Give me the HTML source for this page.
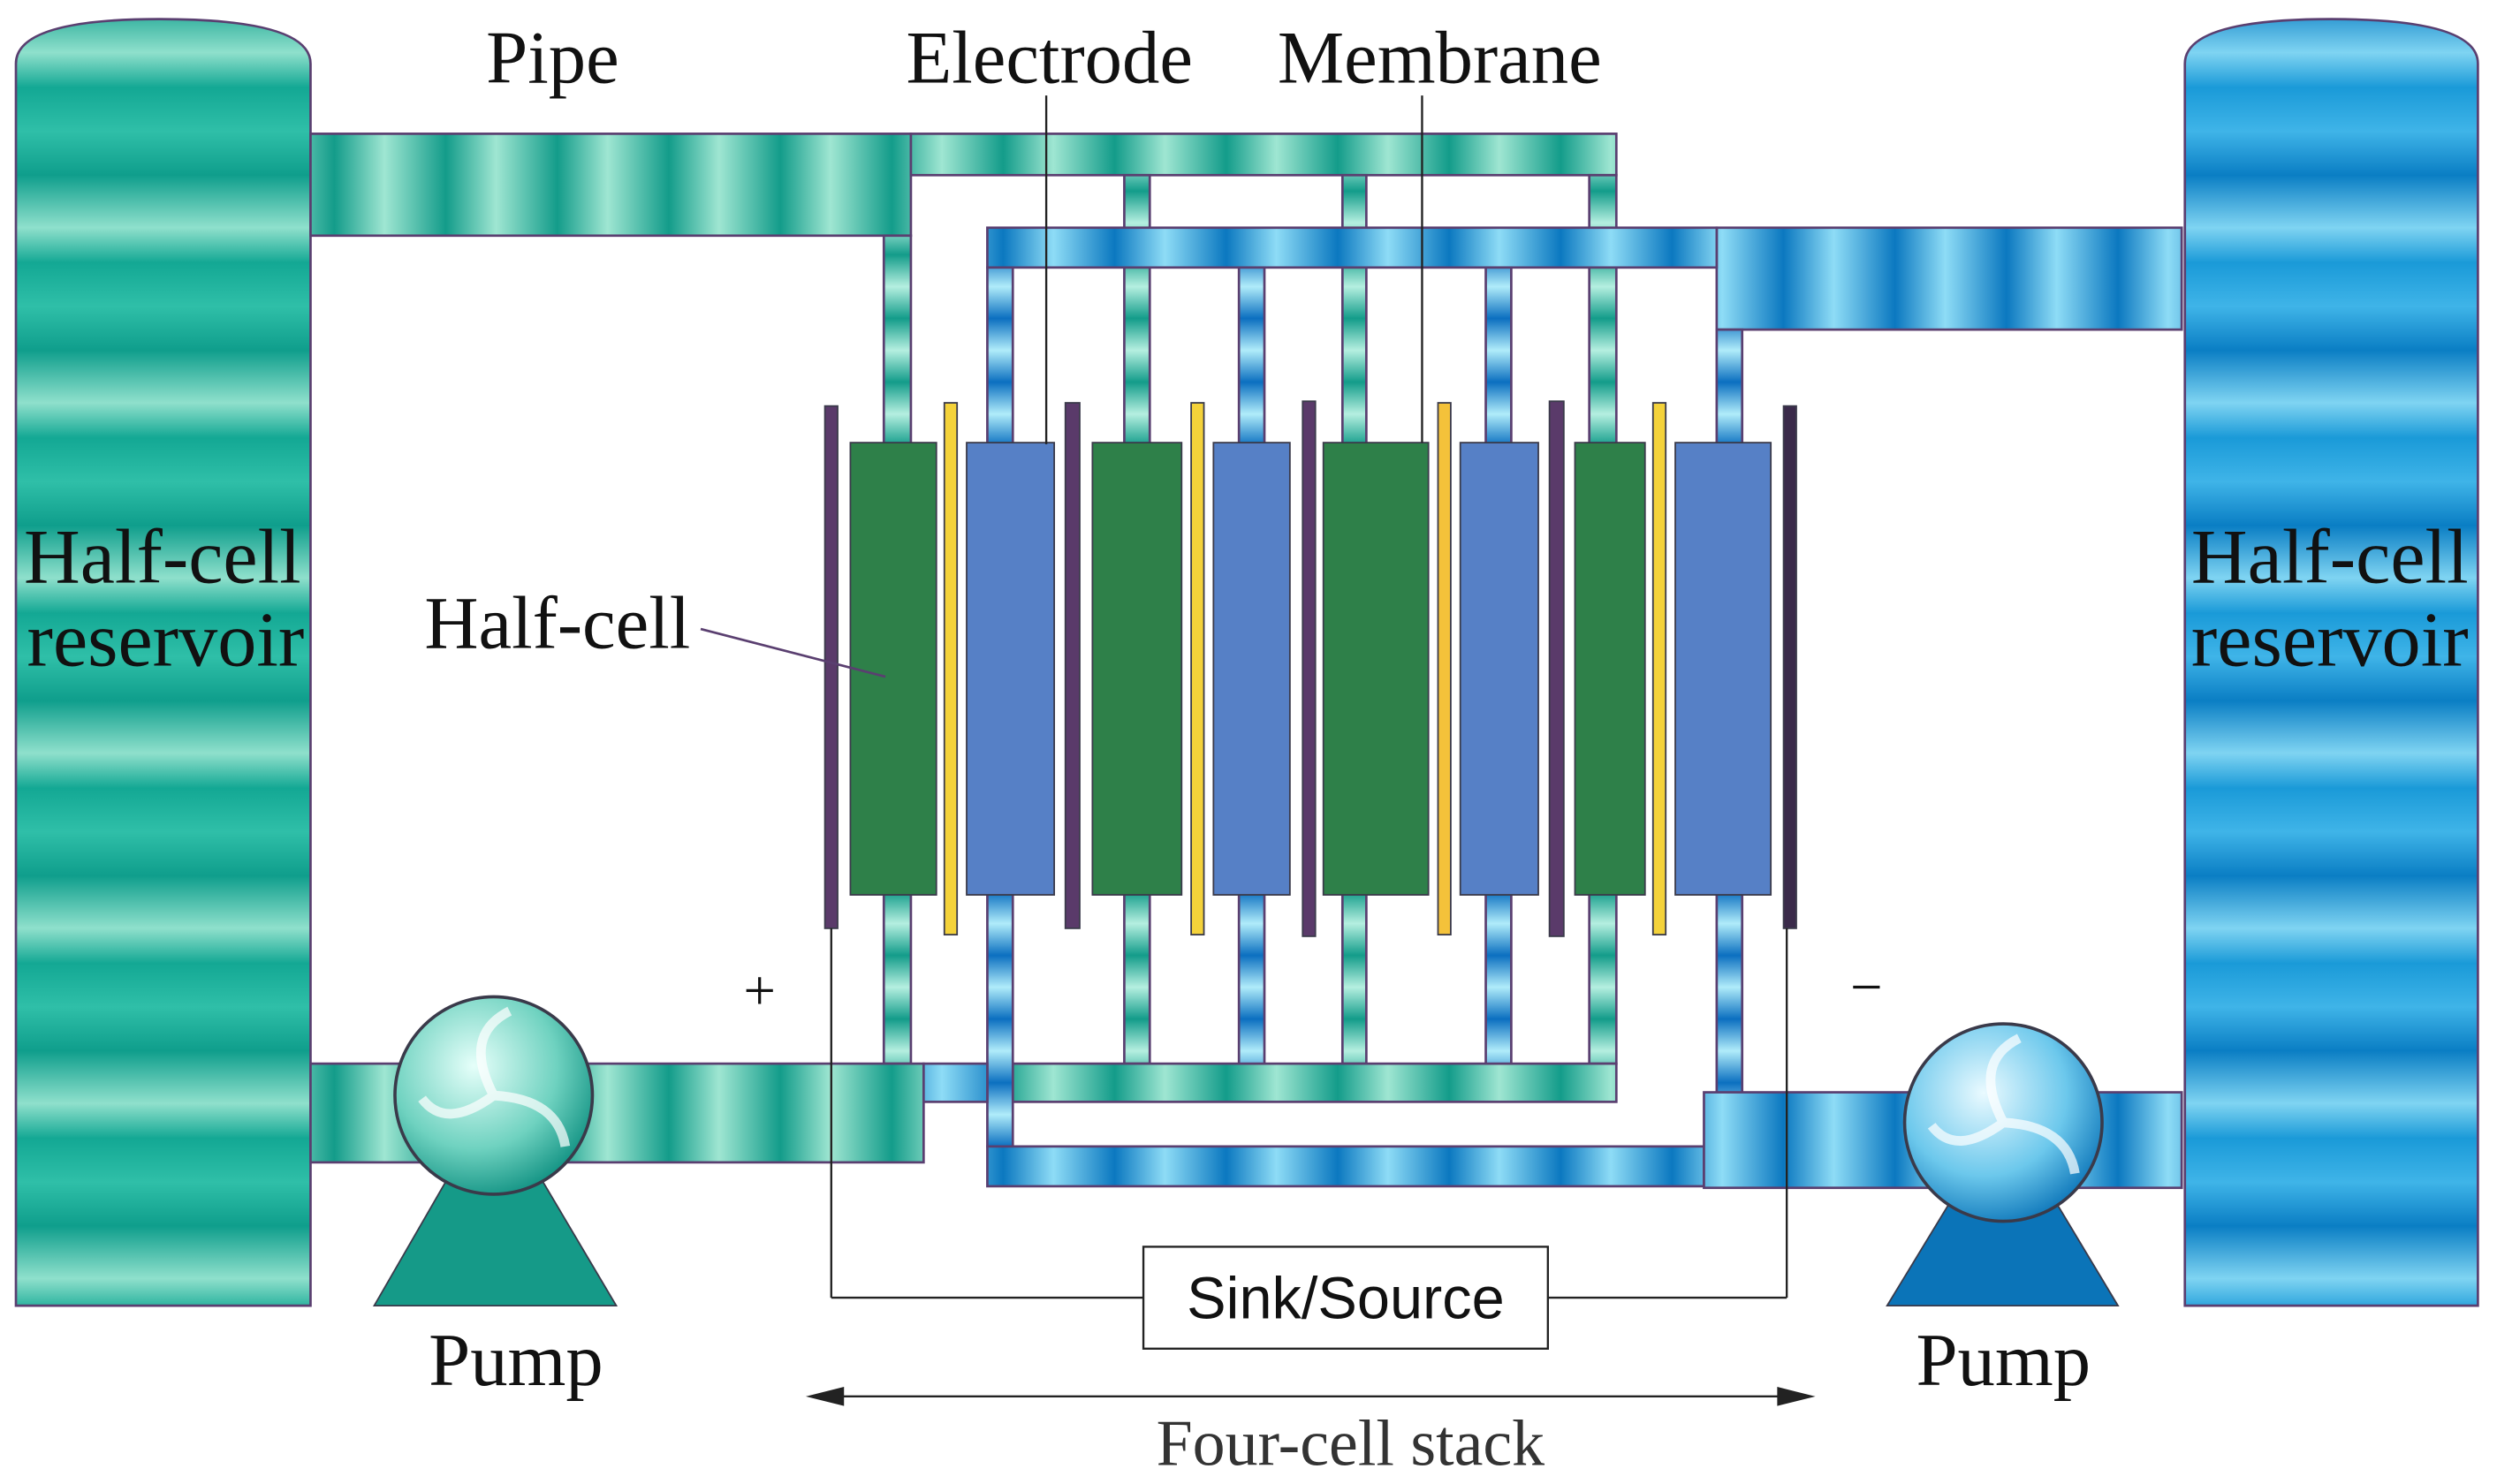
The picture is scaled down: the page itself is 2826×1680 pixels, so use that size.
<!DOCTYPE html>
<html><head><meta charset="utf-8"><style>
html,body{margin:0;padding:0;background:#fff;}
svg{display:block;}
</style></head><body>
<svg width="2826" height="1680" viewBox="0 0 1568 932" preserveAspectRatio="none" xmlns="http://www.w3.org/2000/svg">
<defs>
<linearGradient id="tv" x1="0" y1="0" x2="0" y2="110" gradientUnits="userSpaceOnUse" spreadMethod="repeat">
<stop offset="0" stop-color="#0f9e8c"/><stop offset="0.3" stop-color="#8fe0cc"/><stop offset="0.5" stop-color="#13a894"/><stop offset="0.75" stop-color="#2fbfa8"/><stop offset="1" stop-color="#0f9e8c"/></linearGradient>
<linearGradient id="bv" x1="0" y1="0" x2="0" y2="110" gradientUnits="userSpaceOnUse" spreadMethod="repeat">
<stop offset="0" stop-color="#0a7ec4"/><stop offset="0.3" stop-color="#7fd4f2"/><stop offset="0.5" stop-color="#1a9ad8"/><stop offset="0.75" stop-color="#3fb4e8"/><stop offset="1" stop-color="#0a7ec4"/></linearGradient>
<linearGradient id="th" x1="0" y1="0" x2="70" y2="0" gradientUnits="userSpaceOnUse" spreadMethod="repeat">
<stop offset="0" stop-color="#139c8a"/><stop offset="0.45" stop-color="#9fe6d2"/><stop offset="1" stop-color="#139c8a"/></linearGradient>
<linearGradient id="bh" x1="0" y1="0" x2="70" y2="0" gradientUnits="userSpaceOnUse" spreadMethod="repeat">
<stop offset="0" stop-color="#0b78c0"/><stop offset="0.45" stop-color="#8edcf6"/><stop offset="1" stop-color="#0b78c0"/></linearGradient>
<linearGradient id="tvs" x1="0" y1="0" x2="0" y2="40" gradientUnits="userSpaceOnUse" spreadMethod="repeat">
<stop offset="0" stop-color="#139c8a"/><stop offset="0.5" stop-color="#b5efe0"/><stop offset="1" stop-color="#139c8a"/></linearGradient>
<linearGradient id="bvs" x1="0" y1="0" x2="0" y2="40" gradientUnits="userSpaceOnUse" spreadMethod="repeat">
<stop offset="0" stop-color="#0b6fc0"/><stop offset="0.5" stop-color="#b0ecfa"/><stop offset="1" stop-color="#0b6fc0"/></linearGradient>
<radialGradient id="tp" cx="0.4" cy="0.35" r="0.7"><stop offset="0" stop-color="#e6fffa"/><stop offset="0.6" stop-color="#6fd2c0"/><stop offset="1" stop-color="#0d8f80"/></radialGradient>
<radialGradient id="bp" cx="0.4" cy="0.35" r="0.7"><stop offset="0" stop-color="#eafaff"/><stop offset="0.6" stop-color="#6cc8ec"/><stop offset="1" stop-color="#0b74b8"/></radialGradient>
</defs>
<g stroke="#5a3f70" stroke-width="1.5">
<path d="M10,40 Q10,12 100,12 Q195,12 195,40 L195,820 L10,820 Z" fill="url(#tv)"/>
<path d="M1372,40 Q1372,12 1464,12 Q1556,12 1556,40 L1556,820 L1372,820 Z" fill="url(#bv)"/>
<rect x="195" y="84" width="377" height="64" fill="url(#th)"/>
<rect x="572" y="84" width="443" height="26" fill="url(#th)"/>
<rect x="555" y="148" width="17" height="520" fill="url(#tvs)"/>
<rect x="706" y="110" width="16" height="558" fill="url(#tvs)"/>
<rect x="843" y="110" width="15" height="558" fill="url(#tvs)"/>
<rect x="998" y="110" width="17" height="558" fill="url(#tvs)"/>
<rect x="636" y="668" width="379" height="24" fill="url(#th)"/>
<rect x="195" y="668" width="385" height="62" fill="url(#th)"/>
<rect x="1078" y="143" width="292" height="64" fill="url(#bh)"/>
<rect x="620" y="143" width="458" height="25" fill="url(#bh)"/>
<rect x="620" y="168" width="16" height="552" fill="url(#bvs)"/>
<rect x="778" y="168" width="16" height="500" fill="url(#bvs)"/>
<rect x="933" y="168" width="16" height="500" fill="url(#bvs)"/>
<rect x="1078" y="207" width="16" height="480" fill="url(#bvs)"/>
<rect x="580" y="668" width="40" height="24" fill="url(#bh)"/>
<rect x="620" y="720" width="450" height="25" fill="url(#bh)"/>
<rect x="1070" y="686" width="300" height="60" fill="url(#bh)"/>
</g>
<g stroke="#3a3a4a" stroke-width="1">
<rect x="518" y="255" width="8" height="328" fill="#5a3a6a"/>
<rect x="669" y="253" width="9" height="330" fill="#5a3a6a"/>
<rect x="818" y="252" width="8" height="336" fill="#5a3a6a"/>
<rect x="973" y="252" width="9" height="336" fill="#5a3a6a"/>
<rect x="1120" y="255" width="8" height="328" fill="#3a2a4a"/>
<rect x="534" y="278" width="54" height="284" fill="#2e8049"/>
<rect x="686" y="278" width="56" height="284" fill="#2e8049"/>
<rect x="831" y="278" width="66" height="284" fill="#2e8049"/>
<rect x="989" y="278" width="44" height="284" fill="#2e8049"/>
<rect x="607" y="278" width="55" height="284" fill="#5680c6"/>
<rect x="762" y="278" width="48" height="284" fill="#5680c6"/>
<rect x="917" y="278" width="49" height="284" fill="#5680c6"/>
<rect x="1052" y="278" width="60" height="284" fill="#5680c6"/>
<rect x="593" y="253" width="8" height="334" fill="#f4d23a"/>
<rect x="748" y="253" width="8" height="334" fill="#f4d23a"/>
<rect x="903" y="253" width="8" height="334" fill="#f4c23a"/>
<rect x="1038" y="253" width="8" height="334" fill="#f4d23a"/>
</g>
<polygon points="310,690 387,820 235,820" fill="#159a88" stroke="#3a3a4a"/>
<circle cx="310" cy="688" r="62" fill="url(#tp)" stroke="#3a3a4a" stroke-width="2"/>
<path d="M310,688 Q290,650 320,635 M310,688 Q350,690 355,720 M310,688 Q280,710 265,690" stroke="#fff" stroke-width="6" fill="none" opacity="0.7"/>
<polygon points="1258,700 1330,820 1185,820" fill="#0b74b8" stroke="#3a3a4a"/>
<circle cx="1258" cy="705" r="62" fill="url(#bp)" stroke="#3a3a4a" stroke-width="2"/>
<path d="M1258,705 Q1238,667 1268,652 M1258,705 Q1298,707 1303,737 M1258,705 Q1228,727 1213,707" stroke="#fff" stroke-width="6" fill="none" opacity="0.7"/>
<g stroke="#222" stroke-width="1.3" fill="none">
<line x1="657" y1="60" x2="657" y2="279"/>
<line x1="893" y1="60" x2="893" y2="278"/>
<line x1="522" y1="583" x2="522" y2="815"/><line x1="522" y1="815" x2="718" y2="815"/>
<line x1="972" y1="815" x2="1122" y2="815"/><line x1="1122" y1="815" x2="1122" y2="583"/>
<rect x="718" y="783" width="254" height="64" fill="#fff"/>
<line x1="520" y1="877" x2="1126" y2="877"/>
</g>
<line x1="440" y1="395" x2="556" y2="425" stroke="#5a3f70" stroke-width="1.5"/>
<polygon points="506,877 530,871 530,883" fill="#222"/>
<polygon points="1140,877 1116,871 1116,883" fill="#222"/>
<g font-family="Liberation Serif, serif" fill="#111" text-anchor="middle">
<text x="347" y="52" font-size="47">Pipe</text>
<text x="659" y="52" font-size="47">Electrode</text>
<text x="904" y="52" font-size="47">Membrane</text>
<text x="350" y="407" font-size="47">Half-cell</text>
<text x="102" y="366" font-size="49">Half-cell</text>
<text x="104" y="418" font-size="49">reservoir</text>
<text x="1463" y="366" font-size="49">Half-cell</text>
<text x="1463" y="418" font-size="49">reservoir</text>
<text x="324" y="870" font-size="47">Pump</text>
<text x="1258" y="870" font-size="47">Pump</text>
<text x="848" y="920" font-size="41" fill="#333">Four-cell stack</text>
<text x="477" y="634" font-size="36">+</text>
<text x="1172" y="632" font-size="36">−</text>
</g>
<text x="845" y="828" font-family="Liberation Sans, sans-serif" font-size="37" text-anchor="middle" fill="#111">Sink/Source</text>
</svg>
</body></html>
